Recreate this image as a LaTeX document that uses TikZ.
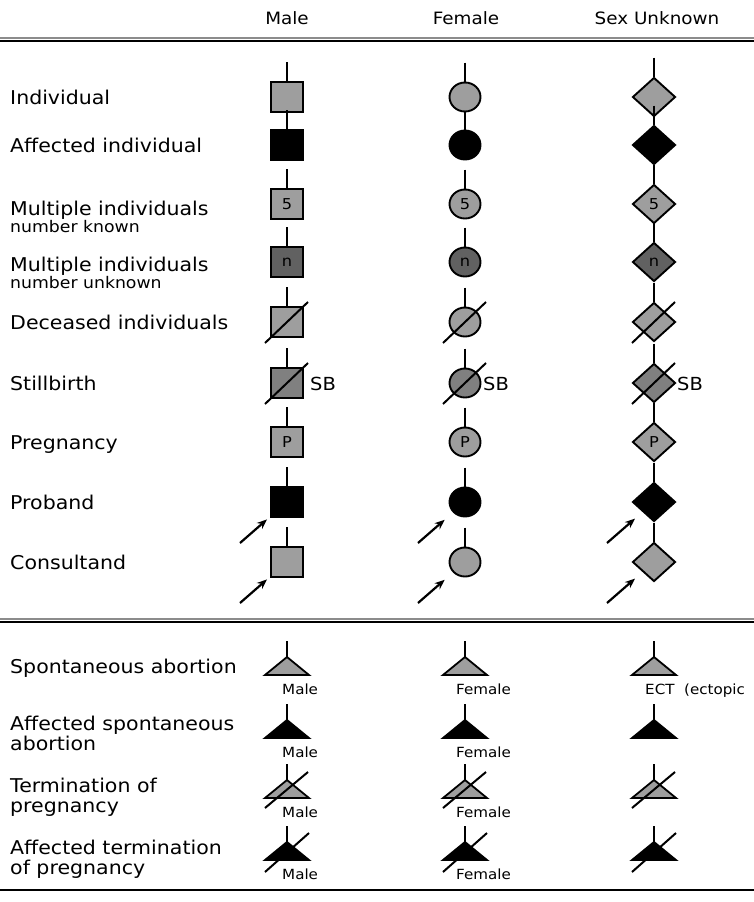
\documentclass[tikz,border=0pt]{standalone}
\usepackage{fontspec}
\setmainfont{DejaVu Sans}[FakeStretch=1.08]
\usetikzlibrary{shapes.geometric,arrows.meta,calc}
\definecolor{gfill}{gray}{0.62}
\definecolor{dfill}{gray}{0.38}
\definecolor{sbfill}{gray}{0.50}
\definecolor{rulegray}{gray}{0.55}
\begin{document}
\begin{tikzpicture}[x=1pt,y=-1pt,
  sym/.style={draw=black, line width=1.9pt, inner sep=0pt, font=\fontsize{15}{15}\selectfont},
  stub/.style={line width=2.2pt},
  slash/.style={line width=2pt},
  tri/.style={draw=black, line width=1.8pt, line join=miter},
  arr/.style={line width=2.2pt, -{Stealth[length=10pt,width=8pt]}},
  lab/.style={anchor=base west, inner sep=0pt, font=\fontsize{19}{19}\selectfont},
  sublab/.style={anchor=base west, inner sep=0pt, font=\fontsize{16}{16}\selectfont},
  hdr/.style={anchor=base, inner sep=0pt, font=\fontsize{17}{17}\selectfont},
  sbl/.style={anchor=base west, inner sep=0pt, font=\fontsize{18}{18}\selectfont},
  tl/.style={anchor=base west, inner sep=0pt, font=\fontsize{14}{14}\selectfont},
  rulek/.style={line width=2.6pt, black},
  ruleg/.style={line width=1.2pt, rulegray}]
\useasboundingbox (0,0) rectangle (754,902);
\fill[white] (0,0) rectangle (754,902);

% header
\node[hdr] (hM) at (287,24) {Male};
\node[hdr] (hF) at (466,24) {Female};
\node[hdr] (hU) at (657,24) {Sex Unknown};
\coordinate (t0) at (0,41); \coordinate (t1) at (754,41);
\coordinate (tg0) at (0,38); \coordinate (tg1) at (754,38);
\draw[ruleg] (tg0) -- (tg1);
\draw[rulek] (t0) -- (t1);

% left labels (top part)
\node[lab] (l1) at (10,104) {Individual};
\node[lab] (l2) at (10,152) {Affected individual};
\node[lab] (l3) at (10,215) {Multiple individuals};
\node[sublab] (l3b) at (10,232) {number known};
\node[lab] (l4) at (10,271) {Multiple individuals};
\node[sublab] (l4b) at (10,288) {number unknown};
\node[lab] (l5) at (10,329) {Deceased individuals};
\node[lab] (l6) at (10,390) {Stillbirth};
\node[lab] (l7) at (10,449) {Pregnancy};
\node[lab] (l8) at (10,509) {Proband};
\node[lab] (l9) at (10,569) {Consultand};

% symbols
\foreach \shp/\x/\n/\w/\hh/\sb/\sh in {rectangle/287/M/32/30/23/4, ellipse/465/F/31/29/18/11, diamond/654/U/43/39/23/10}{
  \tikzset{cur/.style/.expanded={sym, shape=\shp, minimum width=\w pt, minimum height=\hh pt}}
  \foreach \r/\y/\f/\t in {ind/97/gfill/{}, aff/145/black/{}, mk/204/gfill/5, mu/262/dfill/n, dec/322/gfill/{}, sb/383/sbfill/{}, prg/442/gfill/P, pro/502/black/{}, con/562/gfill/{}}{
    \node[cur, fill=\f] (\r\n) at (\x,\y) {\t};
    \coordinate (\r T\n) at (\x,{\y-\hh/2-20});
    \draw[stub] (\r T\n) -- (\r\n.north);
  }
  \draw[slash] ($(dec\n.center)+(-22,21)$) -- ($(dec\n.center)+(21,-20)$);
  \draw[slash] ($(sb\n.center)+(-22,21)$) -- ($(sb\n.center)+(21,-20)$);
  \node[sbl] (sbt\n) at ({\x+\sb},390) {SB};
  \coordinate (proA\n) at ({\x-47},543);
  \coordinate (conA\n) at ({\x-47},603);
  \draw[arr, shorten >=\sh pt] (proA\n) -- (pro\n);
  \draw[arr, shorten >=\sh pt] (conA\n) -- (con\n);
}

% divider
\coordinate (d0) at (0,622); \coordinate (d1) at (754,622);
\coordinate (dg0) at (0,619); \coordinate (dg1) at (754,619);
\draw[ruleg] (dg0) -- (dg1);
\draw[rulek] (d0) -- (d1);

% left labels (bottom part)
\node[lab] (b1) at (10,673) {Spontaneous abortion};
\node[lab] (b2) at (10,730) {Affected spontaneous};
\node[lab] (b2b) at (10,750) {abortion};
\node[lab] (b3) at (10,792) {Termination of};
\node[lab] (b3b) at (10,812) {pregnancy};
\node[lab] (b4) at (10,854) {Affected termination};
\node[lab] (b4b) at (10,874) {of pregnancy};

% triangles
\foreach \x/\n in {287/M,465/F,654/U}{
  \foreach \r/\a/\f in {sa/657/gfill, asa/720/black, top/780/gfill, atop/842/black}{
    \coordinate (\r A\n) at (\x,\a);
    \coordinate (\r T\n) at (\x,{\a-16});
    \draw[tri, fill=\f] (\r A\n) -- ++(22,18) -- ++(-44,0) -- cycle;
    \draw[stub] (\r T\n) -- (\r A\n);
  }
  \draw[slash] ($(topA\n)+(-22,28)$) -- ($(topA\n)+(21,-8)$);
  \draw[slash] ($(atopA\n)+(-22,30)$) -- ($(atopA\n)+(22,-9)$);
}

\node[tl] (saM) at (282,694) {Male};
\node[tl] (saF) at (456,694) {Female};
\node[tl] (saU) at (645,694) {ECT\ \ (ectopic};
\node[tl] (asaM) at (282,757) {Male};
\node[tl] (asaF) at (456,757) {Female};
\node[tl] (topM) at (282,817) {Male};
\node[tl] (topF) at (456,817) {Female};
\node[tl] (atopM) at (282,879) {Male};
\node[tl] (atopF) at (456,879) {Female};

% bottom rule
\coordinate (e0) at (0,890); \coordinate (e1) at (754,890);
\draw[rulek] (e0) -- (e1);
\end{tikzpicture}
\end{document}
